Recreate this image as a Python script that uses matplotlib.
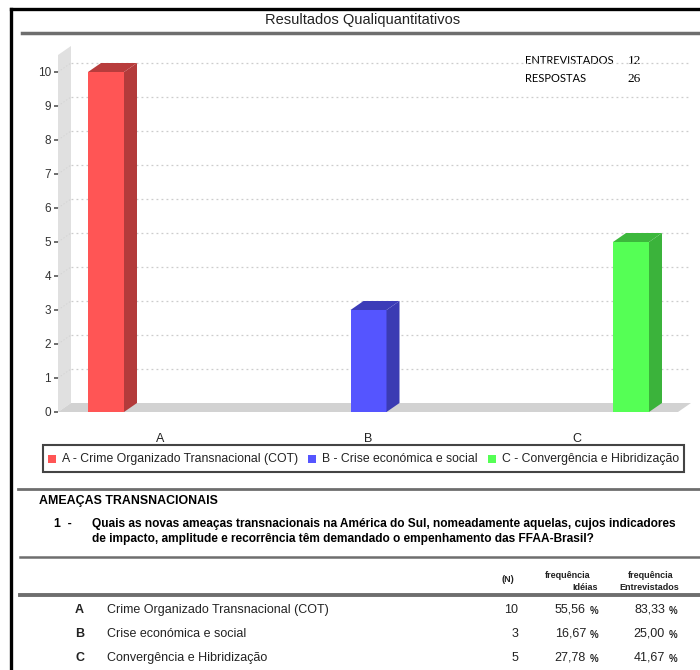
import matplotlib

matplotlib.use("Agg")
import matplotlib.pyplot as plt
from matplotlib.patches import Polygon, Rectangle

# --- data ---
categories = ["A", "B", "C"]
descriptions = [
    "Crime Organizado Transnacional (COT)",
    "Crise económica e social",
    "Convergência e Hibridização",
]
counts = [10, 3, 5]
freq_ideias = ["55,56", "16,67", "27,78"]
freq_entrev = ["83,33", "25,00", "41,67"]
entrevistados = 12
respostas = 26
y_ticks = list(range(0, 11))

# --- styles ---
FRONT = ["#ff5555", "#5555ff", "#55ff55"]
SIDE = ["#b33b3b", "#3b3bb3", "#3bb33b"]
TOP = ["#b83c3c", "#3c3cb8", "#3cb83c"]
WALL = "#e0e0e0"
FLOOR = "#d2d2d2"
GRID = "#cccccc"
LINE = "#6e6e6e"
TXT = "#222222"
SANS = ["Liberation Sans", "DejaVu Sans"]

W, H = 700, 670
fig = plt.figure(figsize=(W / 100, H / 100), dpi=100, facecolor="white")

# background axes in pixel coordinates for the page decoration
bg = fig.add_axes([0, 0, 1, 1])
bg.set_xlim(0, W)
bg.set_ylim(H, 0)
bg.axis("off")

# frame + rules
bg.plot([11, 11], [9, H], color="black", lw=2.4)
bg.plot([11, W], [9, 9], color="black", lw=2.4)
bg.plot([22, W], [33, 33], color=LINE, lw=2.5)
bg.text(363, 20, "Resultados Qualiquantitativos", ha="center", va="center",
        fontsize=10.5, color=TXT, family=["Liberation Sans Narrow", "Liberation Sans"])

# --- chart axes (pixel-aligned) ---
px_left, px_right, px_top, px_bot = 58, 695, 40, 425
x0_px, unit_x = 106, 262.5  # bar A centre, px per category
y0_px, unit_y = 412, 34.0   # value 0, px per unit
ax = fig.add_axes([px_left / W, (H - px_bot) / H,
                   (px_right - px_left) / W, (px_bot - px_top) / H])
xmin = (px_left - x0_px) / unit_x
xmax = (px_right - x0_px) / unit_x
ymin = (y0_px - px_bot) / unit_y
ymax = (y0_px - px_top) / unit_y
ax.set_xlim(xmin, xmax)
ax.set_ylim(ymin, ymax)
ax.patch.set_alpha(0)
for s in ax.spines.values():
    s.set_visible(False)

dx = 13 / unit_x   # 3d depth
dy = 9 / unit_y
bw = 36 / unit_x
wall_top = 10.5
floor_end = (678 - x0_px) / unit_x

# side wall + floor
ax.add_patch(Polygon([(xmin, 0), (xmin, wall_top), (xmin + dx, wall_top + dy),
                      (xmin + dx, dy)], closed=True, fc=WALL, ec="none", zorder=1))
ax.add_patch(Polygon([(xmin, 0), (floor_end, 0), (floor_end + dx, dy),
                      (xmin + dx, dy)], closed=True, fc=FLOOR, ec="none", zorder=1))

for v in y_ticks[1:]:
    ax.plot([xmin + dx, floor_end + dx], [v + dy, v + dy], color=GRID,
            lw=0.9, ls=(0, (1.5, 2.5)), zorder=1)
    ax.plot([xmin, xmin + dx], [v, v + dy], color="#d0d0d0", lw=0.6,
            ls=(0, (1.5, 2.5)), zorder=1)

# 3d bars
for i, v in enumerate(counts):
    l, r = i - bw / 2, i + bw / 2
    ax.add_patch(Rectangle((l, 0), bw, v, fc=FRONT[i], ec="none", zorder=3))
    ax.add_patch(Polygon([(r, 0), (r + dx, dy), (r + dx, v + dy), (r, v)],
                         closed=True, fc=SIDE[i], ec="none", zorder=3))
    ax.add_patch(Polygon([(l, v), (r, v), (r + dx, v + dy), (l + dx, v + dy)],
                         closed=True, fc=TOP[i], ec="none", zorder=3))

ax.set_yticks(y_ticks)
ax.set_yticklabels([str(t) for t in y_ticks], fontsize=8.5, color="#333333",
                   family=SANS)
ax.tick_params(axis="y", length=3, width=1.2, color="#555555", pad=2)
label_step = (576 - 160) / 2 / unit_x
ax.set_xticks([1 + (i - 1) * label_step for i in range(len(categories))])
ax.set_xticklabels(categories, fontsize=9, color=TXT, family=SANS)
ax.tick_params(axis="x", length=0, pad=6)

# ENTREVISTADOS / RESPOSTAS
bg.text(525, 61, "ENTREVISTADOS", fontsize=8, color="black", va="center",
        family=["Lato", "DejaVu Sans"])
bg.text(641, 61, str(entrevistados), fontsize=9.5, color="black", va="center",
        ha="right", family=["Liberation Serif"])
bg.text(525, 79, "RESPOSTAS", fontsize=8, color="black", va="center",
        family=["Lato", "DejaVu Sans"])
bg.text(641, 79, str(respostas), fontsize=9.5, color="black", va="center",
        ha="right", family=["Liberation Serif"])

# legend box
bg.add_patch(Rectangle((43, 445), 641, 27, fc="white", ec="#444444", lw=1.5))
leg_x = [48, 308, 488]
for i, (c, d) in enumerate(zip(categories, descriptions)):
    bg.add_patch(Rectangle((leg_x[i], 455), 8, 8, fc=FRONT[i], ec="none"))
    bg.text(leg_x[i] + 14, 459, f"{c} - {d}", fontsize=8.8, color=TXT,
            va="center", family=SANS)

# question block
bg.plot([18, W], [489, 489], color=LINE, lw=2)
bg.text(39, 501, "AMEAÇAS TRANSNACIONAIS", fontsize=8.9, fontweight="bold",
        color="black", va="center", family=SANS)
bg.text(54, 524, "1  -", fontsize=8.8, fontweight="bold", color="black",
        va="center", family=SANS)
bg.text(92, 524, "Quais as novas ameaças transnacionais na América do Sul, "
        "nomeadamente aquelas, cujos indicadores", fontsize=8.6,
        fontweight="bold", color="black", va="center", family=SANS)
bg.text(92, 539, "de impacto, amplitude e recorrência têm demandado o "
        "empenhamento das FFAA-Brasil?", fontsize=8.6, fontweight="bold",
        color="black", va="center", family=SANS)
bg.plot([20, W], [557, 557], color=LINE, lw=1.8)

# table header
bg.text(508, 580, "(N)", fontsize=6.5, fontweight="bold", color=TXT,
        ha="center", va="center", family=SANS)
bg.text(590, 575, "frequência", fontsize=6.5, fontweight="bold", color=TXT,
        ha="right", va="center", family=SANS)
bg.text(598, 587, "Idéias", fontsize=6.5, fontweight="bold", color=TXT,
        ha="right", va="center", family=SANS)
bg.text(673, 575, "frequência", fontsize=6.5, fontweight="bold", color=TXT,
        ha="right", va="center", family=SANS)
bg.text(679, 587, "Entrevistados", fontsize=6.5, fontweight="bold", color=TXT,
        ha="right", va="center", family=SANS)
bg.plot([20, W], [595, 595], color=LINE, lw=2.8)

# table rows
row_y = [610, 634, 658]
for i, y in enumerate(row_y):
    bg.text(75, y, categories[i], fontsize=9, fontweight="bold", color=TXT,
            va="center", family=SANS)
    bg.text(107, y, descriptions[i], fontsize=9, color=TXT, va="center",
            family=SANS)
    bg.text(518, y, str(counts[i]), fontsize=9, color=TXT, va="center",
            ha="right", family=SANS)
    bg.text(586, y, freq_ideias[i], fontsize=9, color=TXT, va="center",
            ha="right", family=SANS)
    bg.text(590, y + 1, "%", fontsize=7, fontweight="bold", color=TXT,
            va="center", family=SANS)
    bg.text(665, y, freq_entrev[i], fontsize=9, color=TXT, va="center",
            ha="right", family=SANS)
    bg.text(669, y + 1, "%", fontsize=7, fontweight="bold", color=TXT,
            va="center", family=SANS)

fig.savefig("out.png", dpi=100, facecolor="white")
